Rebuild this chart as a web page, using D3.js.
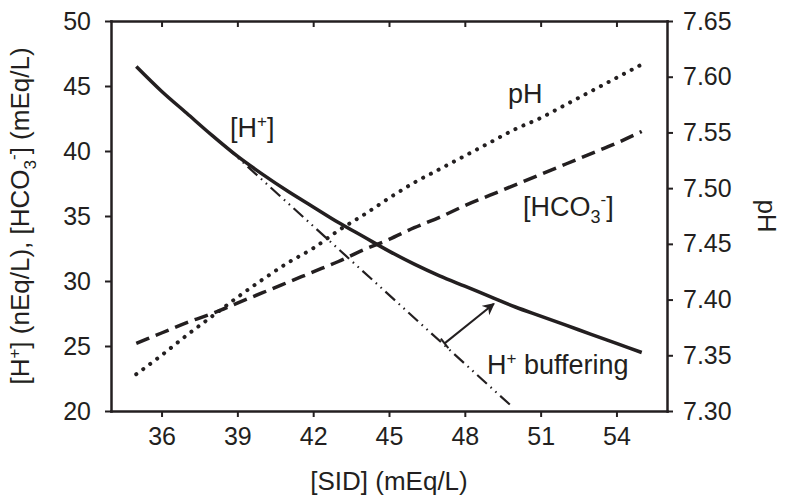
<!DOCTYPE html>
<html lang="en">
<head>
    <meta charset="UTF-8">
    <title>SID vs H+, HCO3-, pH</title>
    <script src="https://d3js.org/d3.v7.min.js"></script>
    <style>
        body { margin: 0; background: #fff; }
        svg text { font-family: "Liberation Sans", Arial, sans-serif; fill: #231f20; }
        .axis path, .axis line { stroke: #231f20; }
    </style>
</head>
<body>
    <svg width="786" height="500"></svg>
    <script>
        // values
        const sid = [35, 36, 37, 38, 39, 40, 41, 42, 43, 44, 45, 46, 47, 48, 49, 50, 51, 52, 53, 54, 55];
        const hPlus = [46.5, 44.6, 42.9, 41.2, 39.6, 38.2, 36.9, 35.7, 34.5, 33.4, 32.3, 31.3, 30.4, 29.6, 28.8, 28.0, 27.3, 26.6, 25.9, 25.2, 24.5];
        const hco3 = [25.2, 26.0, 26.8, 27.5, 28.3, 29.1, 29.9, 30.7, 31.5, 32.4, 33.2, 34.1, 34.9, 35.8, 36.6, 37.4, 38.2, 39.0, 39.8, 40.6, 41.5];
        const pH = [7.333, 7.350, 7.368, 7.385, 7.402, 7.418, 7.433, 7.446, 7.462, 7.476, 7.491, 7.505, 7.517, 7.529, 7.541, 7.553, 7.563, 7.575, 7.587, 7.599, 7.611];

        // unbuffered H+ line (dash-dot-dot) and the buffering arrow
        const unbuffered = [[38.5, 40.4], [49.8, 20.46]];
        const arrowFrom = [47.2, 25.2];
        const arrowTo = [49.15, 28.25];

        const xTicks = [36, 39, 42, 45, 48, 51, 54];
        const yTicks = [20, 25, 30, 35, 40, 45, 50];
        const pHTicks = [7.30, 7.35, 7.40, 7.45, 7.50, 7.55, 7.60, 7.65];

        const margin = {top: 21, right: 119, bottom: 89, left: 111},
              width = 786 - margin.left - margin.right,
              height = 500 - margin.top - margin.bottom;

        const x = d3.scaleLinear().domain([34, 56]).range([0, width]);
        const y = d3.scaleLinear().domain([20, 50]).range([height, 0]);
        const y2 = d3.scaleLinear().domain([7.30, 7.65]).range([height, 0]);

        const svg = d3.select("svg")
          .append("g")
            .attr("transform", `translate(${margin.left},${margin.top})`);

        // arrow head
        svg.append("defs").append("marker")
            .attr("id", "head")
            .attr("viewBox", "0 0 10 10")
            .attr("refX", 9).attr("refY", 5)
            .attr("markerWidth", 6).attr("markerHeight", 6)
            .attr("markerUnits", "strokeWidth")
            .attr("orient", "auto")
          .append("path")
            .attr("d", "M0,0 L10,5 L0,10 L3,5 Z")
            .attr("fill", "#231f20");

        // axes
        const tickFont = 25;
        const styleAxis = g => {
            g.attr("class", "axis");
            g.select(".domain").attr("stroke-width", 2.5);
            g.selectAll(".tick line").attr("stroke-width", 2);
            g.selectAll(".tick text").attr("font-size", tickFont).attr("fill", "#231f20");
        };

        svg.append("g")
            .attr("transform", `translate(0,${height})`)
            .call(d3.axisBottom(x).tickValues(xTicks).tickSizeInner(6).tickSizeOuter(0).tickPadding(10))
            .call(styleAxis);

        svg.append("g")
            .call(d3.axisTop(x).tickValues(xTicks).tickSizeInner(-6).tickSizeOuter(0).tickFormat(""))
            .call(styleAxis);

        svg.append("g")
            .call(d3.axisLeft(y).tickValues(yTicks).tickSizeInner(6).tickSizeOuter(0).tickPadding(14))
            .call(styleAxis);

        svg.append("g")
            .attr("transform", `translate(${width},0)`)
            .call(d3.axisRight(y2).tickValues(pHTicks).tickSizeInner(6).tickSizeOuter(0).tickPadding(10)
                .tickFormat(d3.format(".2f")))
            .call(styleAxis);

        svg.selectAll(".axis .domain").attr("stroke-linecap", "square");

        // lines
        const lineL = d3.line().x(d => x(d[0])).y(d => y(d[1])).curve(d3.curveMonotoneX);
        const lineR = d3.line().x(d => x(d[0])).y(d => y2(d[1])).curve(d3.curveMonotoneX);

        svg.append("path")
            .datum(d3.zip(sid, pH))
            .attr("d", lineR)
            .attr("fill", "none")
            .attr("stroke", "#231f20")
            .attr("stroke-width", 4)
            .attr("stroke-linecap", "round")
            .attr("stroke-dasharray", "0.1 8.6");

        svg.append("path")
            .datum(d3.zip(sid, hco3))
            .attr("d", lineL)
            .attr("fill", "none")
            .attr("stroke", "#231f20")
            .attr("stroke-width", 3.5)
            .attr("stroke-dasharray", "14 7");

        svg.append("path")
            .datum(unbuffered)
            .attr("d", d3.line().x(d => x(d[0])).y(d => y(d[1])))
            .attr("fill", "none")
            .attr("stroke", "#231f20")
            .attr("stroke-width", 2.2)
            .attr("stroke-dasharray", "13 5 1.5 5 1.5 5");

        svg.append("path")
            .datum(d3.zip(sid, hPlus))
            .attr("d", lineL)
            .attr("fill", "none")
            .attr("stroke", "#231f20")
            .attr("stroke-width", 3.5);

        // buffering arrow with a small tail bar
        const ax0 = x(arrowFrom[0]), ay0 = y(arrowFrom[1]);
        const ax1 = x(arrowTo[0]), ay1 = y(arrowTo[1]);
        svg.append("line")
            .attr("x1", ax0).attr("y1", ay0)
            .attr("x2", ax1).attr("y2", ay1)
            .attr("stroke", "#231f20")
            .attr("stroke-width", 2)
            .attr("marker-end", "url(#head)");
        const len = Math.hypot(ax1 - ax0, ay1 - ay0);
        const px = -(ay1 - ay0) / len * 6, py = (ax1 - ax0) / len * 6;
        svg.append("line")
            .attr("x1", ax0 - px).attr("y1", ay0 - py)
            .attr("x2", ax0 + px).attr("y2", ay0 + py)
            .attr("stroke", "#231f20")
            .attr("stroke-width", 2);

        // annotations
        const labFont = 27;
        const hLab = svg.append("text")
            .attr("x", x(38.71)).attr("y", y(41.08))
            .attr("font-size", labFont);
        hLab.append("tspan").text("[H");
        hLab.append("tspan").attr("dy", -10).attr("font-size", 17).text("+");
        hLab.append("tspan").attr("dy", 10).text("]");

        svg.append("text")
            .attr("x", x(49.71)).attr("y", y(43.69))
            .attr("font-size", labFont)
            .text("pH");

        const bLab = svg.append("text")
            .attr("x", x(50.3)).attr("y", y(35.0))
            .attr("font-size", labFont);
        bLab.append("tspan").text("[HCO");
        bLab.append("tspan").attr("dy", 7).attr("font-size", 18).text("3");
        bLab.append("tspan").attr("dy", -18).attr("font-size", 17).text("-");
        bLab.append("tspan").attr("dy", 11).text("]");

        const bufLab = svg.append("text")
            .attr("x", x(48.88)).attr("y", y(22.85))
            .attr("font-size", labFont);
        bufLab.append("tspan").text("H");
        bufLab.append("tspan").attr("dy", -10).attr("font-size", 17).text("+");
        bufLab.append("tspan").attr("dy", 10).text(" buffering");

        // axis titles
        svg.append("text")
            .attr("x", width / 2).attr("y", height + 79)
            .attr("text-anchor", "middle")
            .attr("font-size", 26)
            .text("[SID] (mEq/L)");

        const yLab = svg.append("text")
            .attr("transform", `translate(${-82},${height / 2}) rotate(-90)`)
            .attr("text-anchor", "middle")
            .attr("font-size", 26);
        yLab.append("tspan").text("[H");
        yLab.append("tspan").attr("dy", -9).attr("font-size", 17).text("+");
        yLab.append("tspan").attr("dy", 9).text("] (nEq/L), [HCO");
        yLab.append("tspan").attr("dy", 7).attr("font-size", 17).text("3");
        yLab.append("tspan").attr("dy", -17).attr("font-size", 17).text("-");
        yLab.append("tspan").attr("dy", 10).text("] (mEq/L)");

        svg.append("text")
            .attr("transform", `translate(${width + 91},${height / 2}) rotate(90)`)
            .attr("text-anchor", "middle")
            .attr("font-size", 26)
            .text("pH");
    </script>
</body>
</html>
